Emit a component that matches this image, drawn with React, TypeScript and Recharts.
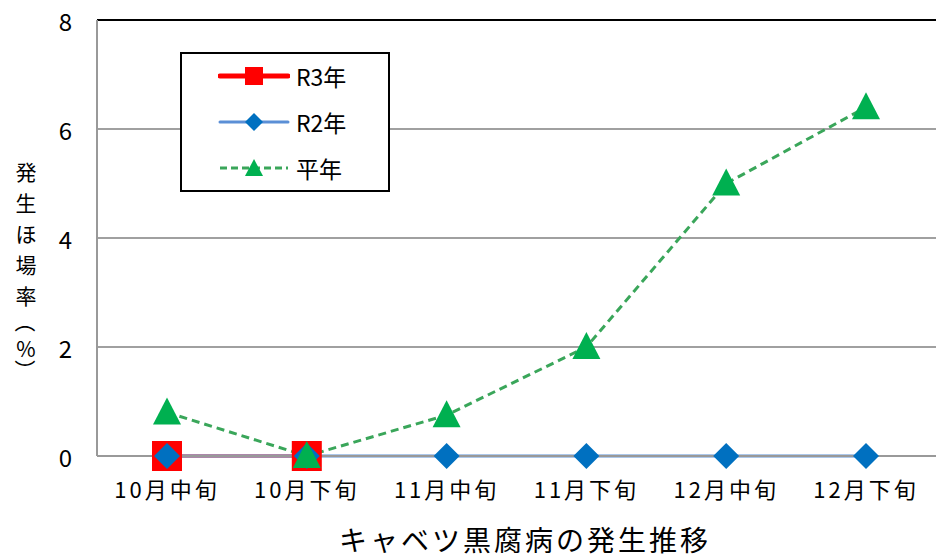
import { LineChart, Line, XAxis, YAxis, CartesianGrid, ReferenceLine, Legend } from 'recharts';

const periods = ['10月中旬', '10月下旬', '11月中旬', '11月下旬', '12月中旬', '12月下旬'];
const r3Values = [0, 0, null, null, null, null];
const r2Values = [0, 0, 0, 0, 0, 0];
const normalValues = [0.8, 0, 0.75, 2.0, 5.0, 6.4];
const yTicks = [0, 2, 4, 6, 8];
const yLabelChars = ['発', '生', 'ほ', '場', '率', '（', '%', '）'];

const data = periods.map((p, i) => ({
  period: p,
  r3: r3Values[i],
  r2: r2Values[i],
  normal: normalValues[i],
}));

const FONT = '"Noto Sans CJK JP", "Noto Sans", sans-serif';

const Square = (props: any) => {
  const { cx, cy, index, value } = props;
  if (value == null) return <g key={`s${index}`} />;
  return <rect key={`s${index}`} x={cx - 15} y={cy - 15} width={30} height={30} fill="#FF0000" />;
};

const Diamond = (props: any) => {
  const { cx, cy, index } = props;
  const r = 13;
  return (
    <polygon
      key={`d${index}`}
      points={`${cx},${cy - r} ${cx + r},${cy} ${cx},${cy + r} ${cx - r},${cy}`}
      fill="#0070C0"
    />
  );
};

const Triangle = (props: any) => {
  const { cx, cy, index } = props;
  return (
    <polygon
      key={`t${index}`}
      points={`${cx},${cy - 15} ${cx + 14},${cy + 12} ${cx - 14},${cy + 12}`}
      fill="#00B050"
    />
  );
};

const YTick = (props: any) => {
  const { y, payload } = props;
  return (
    <text x={72} y={y} textAnchor="end" dominantBaseline="central" fontSize={24} fontFamily={FONT} fill="#000">
      {payload.value}
    </text>
  );
};

const XTick = (props: any) => {
  const { x, y, payload } = props;
  return (
    <text x={x} y={y + 24} textAnchor="middle" dominantBaseline="central" fontSize={22} letterSpacing={3} fontFamily={FONT} fill="#000">
      {payload.value}
    </text>
  );
};

const LegendBox = () => {
  const rows = [
    { label: 'R3年', color: '#FF0000', width: 5, dash: undefined, mark: 'square' },
    { label: 'R2年', color: '#5B8FD6', width: 3, dash: undefined, mark: 'diamond' },
    { label: '平年', color: '#3AA65A', width: 3, dash: '7 4', mark: 'triangle' },
  ];
  return (
    <div
      style={{
        position: 'absolute',
        left: 180,
        top: 52,
        width: 206,
        height: 136,
        border: '2px solid #000',
        background: '#fff',
      }}
    >
      {rows.map((r, i) => (
        <div key={r.label} style={{ position: 'absolute', left: 36, top: 7 + i * 46, height: 30, display: 'flex', alignItems: 'center' }}>
          <svg width={72} height={30}>
            <line x1={2} y1={15} x2={70} y2={15} stroke={r.color} strokeWidth={r.width} strokeDasharray={r.dash} strokeLinecap={r.dash ? 'butt' : 'round'} />
            {r.mark === 'square' && <rect x={27} y={6} width={18} height={18} fill="#FF0000" />}
            {r.mark === 'diamond' && <polygon points="36,6 45,15 36,24 27,15" fill="#0070C0" />}
            {r.mark === 'triangle' && <polygon points="36,6 45,23 27,23" fill="#00B050" />}
          </svg>
          <span style={{ marginLeft: 6, fontSize: 23, fontFamily: FONT, color: '#000' }}>{r.label}</span>
        </div>
      ))}
    </div>
  );
};

export default function App() {
  return (
    <div style={{ position: 'absolute', left: 0, top: 0, width: 936, height: 558, background: '#fff', fontFamily: FONT, overflow: 'hidden' }}>
      <LineChart width={936} height={558} data={data} margin={{ top: 20, right: 0, bottom: 0, left: 0 }}>
        <CartesianGrid vertical={false} stroke="#A0A0A0" strokeWidth={2} />
        <XAxis
          dataKey="period"
          padding={{ left: 70, right: 70 }}
          height={102}
          tickLine={false}
          axisLine={{ stroke: '#999', strokeWidth: 2 }}
          tick={<XTick />}
          interval={0}
        />
        <YAxis
          width={97}
          domain={[0, 8]}
          ticks={yTicks}
          tickLine={false}
          axisLine={{ stroke: '#999', strokeWidth: 2 }}
          tick={<YTick />}
        />
        <ReferenceLine y={8} stroke="#000" strokeWidth={2} />
        <Legend content={() => null} />
        <Line
          dataKey="r3"
          stroke="#FF0000"
          strokeWidth={3}
          dot={<Square />}
          activeDot={false}
          connectNulls={false}
          isAnimationActive={false}
        />
        <Line
          dataKey="r2"
          stroke="#5B8FD6"
          strokeWidth={3}
          dot={<Diamond />}
          activeDot={false}
          isAnimationActive={false}
        />
        <Line
          dataKey="normal"
          stroke="#3AA65A"
          strokeWidth={3}
          strokeDasharray="8 5"
          dot={<Triangle />}
          activeDot={false}
          isAnimationActive={false}
        />
      </LineChart>
      <LegendBox />
      <div style={{ position: 'absolute', left: 11, top: 156, width: 30, textAlign: 'center' }}>
        {yLabelChars.map((c, i) => {
          const paren = c === '（' || c === '）';
          return (
            <div
              key={i}
              style={{
                fontSize: 21,
                lineHeight: paren ? '22px' : '31px',
                height: paren ? 22 : c === '%' ? 26 : 31,
                color: '#000',
                transform: paren ? 'rotate(90deg)' : undefined,
              }}
            >
              {c}
            </div>
          );
        })}
      </div>
      <div
        style={{
          position: 'absolute',
          left: 0,
          width: 1050,
          top: 522,
          textAlign: 'center',
          fontSize: 28,
          letterSpacing: 3,
          color: '#000',
          lineHeight: '34px',
        }}
      >
        キャベツ黒腐病の発生推移
      </div>
    </div>
  );
}
